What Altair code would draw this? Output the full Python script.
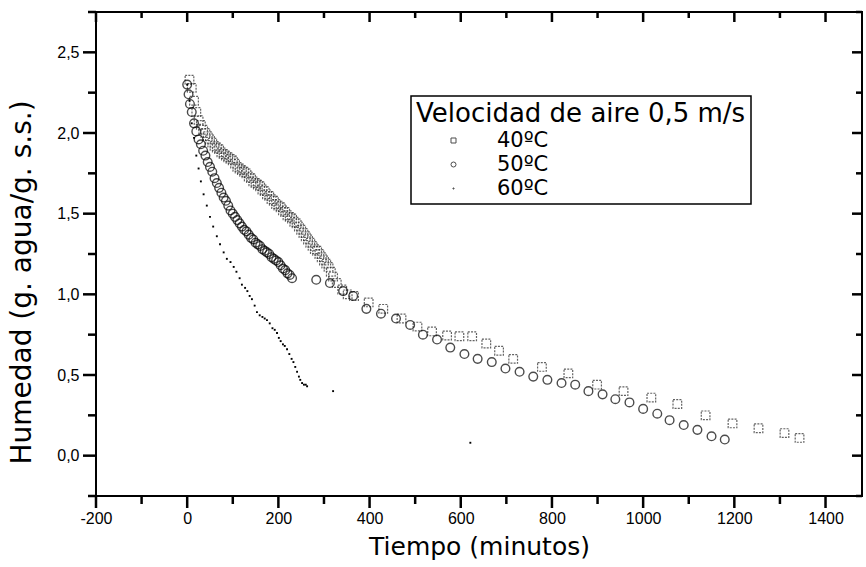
import altair as alt
import pandas as pd

series_names = ["40ºC", "50ºC", "60ºC"]

# 40 ºC (squares)
t40 = [5, 10, 15, 20, 25, 30, 35, 40, 45, 50, 55, 60, 65, 70, 75, 80, 85, 90, 95, 100,
       105, 110, 115, 120, 125, 130, 135, 140, 145, 150, 155, 160, 165, 170, 175, 180,
       185, 190, 195, 200, 205, 210, 215, 220, 225, 230, 235, 240, 245, 250, 255, 260,
       265, 270, 275, 280, 285, 290, 295, 300, 305, 310, 315, 320,
       328, 340, 352, 366, 398, 430, 470, 505, 537, 570, 597, 625, 656, 684, 715,
       778, 836, 899, 957, 1018, 1075, 1137, 1196, 1253, 1310, 1343]
v40 = [2.33, 2.28, 2.20, 2.13, 2.08, 2.05, 2.02, 2.00, 1.98, 1.96, 1.94, 1.92, 1.91, 1.90,
       1.88, 1.87, 1.86, 1.85, 1.84, 1.83, 1.81, 1.79, 1.78, 1.77, 1.76, 1.75, 1.73, 1.72,
       1.70, 1.69, 1.68, 1.67, 1.65, 1.64, 1.62, 1.61, 1.59, 1.58, 1.56, 1.55, 1.54, 1.52,
       1.51, 1.49, 1.48, 1.47, 1.45, 1.44, 1.42, 1.40, 1.38, 1.36, 1.34, 1.32, 1.30, 1.28,
       1.27, 1.25, 1.23, 1.21, 1.19, 1.17, 1.14, 1.11,
       1.07, 1.03, 1.00, 0.99, 0.95, 0.91, 0.85, 0.80, 0.77, 0.745, 0.74, 0.74, 0.695, 0.65,
       0.60, 0.55, 0.51, 0.44, 0.40, 0.36, 0.32, 0.25, 0.20, 0.17, 0.14, 0.11]

# 50 ºC (circles)
t50 = [0, 3, 6, 10, 15, 20, 25, 30, 35, 40, 45, 50, 55, 60, 65, 70, 75, 80, 85, 90, 95,
       100, 105, 110, 115, 120, 125, 130, 135, 140, 145, 150, 155, 160, 165, 170, 175,
       180, 185, 190, 195, 200, 205, 210, 215, 220, 225, 230,
       283, 313, 342, 364, 393, 425, 458, 489, 517, 548, 577, 608, 637, 668, 698, 729,
       759, 790, 821, 851, 880, 911, 939, 970, 1000, 1031, 1058, 1089, 1119, 1150, 1179]
v50 = [2.30, 2.24, 2.18, 2.13, 2.06, 2.01, 1.96, 1.93, 1.89, 1.86, 1.82, 1.79, 1.76, 1.72,
       1.69, 1.66, 1.63, 1.60, 1.58, 1.55, 1.52, 1.50, 1.48, 1.46, 1.44, 1.42, 1.40, 1.39,
       1.37, 1.35, 1.34, 1.32, 1.31, 1.30, 1.28, 1.27, 1.26, 1.25, 1.23, 1.22, 1.21, 1.20,
       1.18, 1.16, 1.15, 1.13, 1.12, 1.10,
       1.09, 1.07, 1.02, 0.99, 0.91, 0.88, 0.85, 0.81, 0.75, 0.72, 0.67, 0.63, 0.60, 0.58,
       0.54, 0.52, 0.49, 0.47, 0.45, 0.44, 0.40, 0.38, 0.35, 0.33, 0.29, 0.26, 0.22, 0.19,
       0.16, 0.12, 0.10]

# 60 ºC (tiny dots)
t60 = [0, 5, 10, 15, 20, 25, 30, 36, 43, 50, 57, 65, 72, 80, 87, 95, 102, 108, 115, 120,
       127, 132, 137, 142, 148, 153, 159, 165, 170, 175, 181, 187, 192, 197, 201, 205, 210,
       214, 219, 224, 229, 233, 237, 241, 245, 248, 252, 256, 260, 263, 320, 621]
v60 = [2.30, 2.20, 2.06, 1.97, 1.86, 1.78, 1.70, 1.62, 1.55, 1.48, 1.42, 1.36, 1.31, 1.26,
       1.22, 1.20, 1.17, 1.14, 1.10, 1.06, 1.04, 1.02, 0.99, 0.97, 0.93, 0.89, 0.87, 0.86,
       0.85, 0.84, 0.82, 0.79, 0.78, 0.76, 0.73, 0.71, 0.69, 0.68, 0.66, 0.63, 0.60, 0.58,
       0.55, 0.52, 0.49, 0.47, 0.45, 0.44, 0.44, 0.43, 0.40, 0.08]

x_major = [-200, 0, 200, 400, 600, 800, 1000, 1200, 1400]
x_minor = [-100, 100, 300, 500, 700, 900, 1100, 1300]
y_major = [0.0, 0.5, 1.0, 1.5, 2.0, 2.5]
y_minor = [-0.25, 0.25, 0.75, 1.25, 1.75, 2.25, 2.75]

x_domain = [-200, 1480]
y_domain = [-0.25, 2.75]

W, H = 766, 484

df = pd.concat([
    pd.DataFrame({"t": t40, "h": v40, "serie": series_names[0]}),
    pd.DataFrame({"t": t50, "h": v50, "serie": series_names[1]}),
    pd.DataFrame({"t": t60, "h": v60, "serie": series_names[2]}),
], ignore_index=True)

TITLE_FONT = "DejaVu Sans"
TICK_FONT = "Liberation Sans"
DOT = "M-0.2,-0.2H0.2V0.2H-0.2Z"

xs = alt.Scale(domain=x_domain, nice=False, zero=False)
ys = alt.Scale(domain=y_domain, nice=False, zero=False)
shape_scale = alt.Scale(domain=series_names, range=["square", "circle", DOT])

legend = alt.Legend(
    title="Velocidad de aire 0,5 m/s", orient="none", legendX=315, legendY=84,
    strokeColor="black", padding=5, titlePadding=3, titleFont=TITLE_FONT,
    titleFontSize=26, titleFontWeight="normal", titleColor="black", titleLimit=500,
    labelFont=TITLE_FONT, labelFontSize=21, labelColor="black", labelLimit=300,
    symbolOffset=27, labelOffset=33, rowPadding=2, symbolSize=25,
    symbolStrokeColor="black", symbolFillColor="transparent", symbolStrokeWidth=1,
)
shape_enc = alt.Shape("serie:N", scale=shape_scale, legend=legend)

x_axis = alt.Axis(
    orient="bottom", values=x_major, labelExpr="'' + datum.value", labelFlush=False,
    ticks=False, tickSize=0, domain=False, labelFont=TICK_FONT, labelFontSize=16,
    labelPadding=14, title="Tiempo (minutos)", titleFont=TITLE_FONT, titleFontSize=25,
    titleFontWeight="normal", titlePadding=8, grid=False)
y_axis = alt.Axis(
    orient="left", values=y_major, labelFlush=False,
    labelExpr="replace(format(datum.value, '.1f'), '.', ',')",
    ticks=False, tickSize=0, domain=False, labelFont=TICK_FONT, labelFontSize=16,
    labelPadding=17, title="Humedad (g. agua/g. s.s.)", titleFont=TITLE_FONT,
    titleFontSize=28, titleFontWeight="normal", titleLimit=600, titleX=-60, titleY=270,
    grid=False)

X = alt.X("t:Q", scale=xs, axis=x_axis)
Y = alt.Y("h:Q", scale=ys, axis=y_axis)

base = alt.Chart(df)

l40 = base.transform_filter(alt.datum.serie == series_names[0]).mark_point(
    filled=False, stroke="#222222", strokeWidth=1.2, strokeDash=[2, 1.2], size=75,
).encode(x=X, y=Y, shape=shape_enc)

l50 = base.transform_filter(alt.datum.serie == series_names[1]).mark_point(
    filled=False, stroke="black", strokeWidth=1.4, size=75,
).encode(x=X, y=Y, shape=shape_enc)

l60 = base.transform_filter(alt.datum.serie == series_names[2]).mark_point(
    filled=True, fill="black", strokeWidth=0, opacity=1, size=90,
).encode(x=X, y=Y, shape=shape_enc)

# tick marks drawn through the same scales (filled tick rectangles)
xt_major = pd.DataFrame({"t": x_major})
xt_minor = pd.DataFrame({"t": x_minor})
yt_major = pd.DataFrame({"h": y_major})
yt_minor = pd.DataFrame({"h": y_minor})

def xticks(data, yc, length):
    return alt.Chart(data).mark_tick(orient="vertical", color="black", fill="black",
                                     opacity=1, thickness=2.5, size=length).encode(
        x=X, y=alt.value(yc))

def yticks(data, xc, length):
    return alt.Chart(data).mark_tick(orient="horizontal", color="black", fill="black",
                                     opacity=1, thickness=2.5, size=length).encode(
        y=Y, x=alt.value(xc))

ticks = [
    xticks(xt_major, H + 6, 12), xticks(xt_minor, H + 4, 8),
    xticks(xt_major, 5, 10), xticks(xt_minor, 3, 6),
    yticks(yt_major, -6.5, 13), yticks(yt_minor, -4, 8),
    yticks(yt_major, W - 5, 10), yticks(yt_minor, W - 3, 6),
]

chart = alt.layer(l40, l50, l60, *ticks).properties(
    width=W, height=H,
    autosize=alt.AutoSizeParams(type="none"),
    padding={"left": 96, "top": 12, "right": 4, "bottom": 71},
    background="white",
).configure_view(
    stroke="black", strokeWidth=2
).configure_axis(
    labelColor="black", titleColor="black"
).configure_legend(strokeWidth=1.5)

chart.save("out.html", embed_options={"renderer": "svg", "actions": False})
